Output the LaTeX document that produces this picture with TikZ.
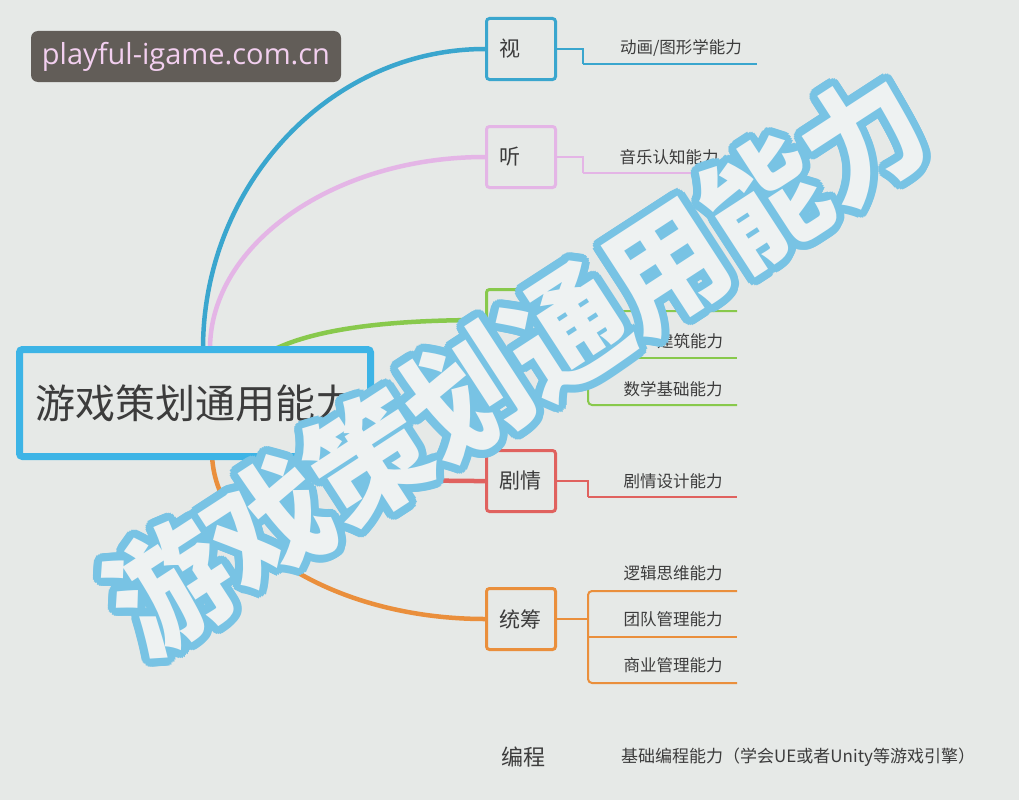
\documentclass[tikz,border=0pt]{standalone}
\usepackage{fontspec}
\setmainfont{Open Sans}
\newfontfamily\cjk{Noto Sans CJK SC}
\definecolor{bg}{HTML}{E6E9E7}
\definecolor{cblue}{HTML}{3AA6CE}
\definecolor{croot}{HTML}{3DB4E6}
\definecolor{cpink}{HTML}{E4B5E6}
\definecolor{cgreen}{HTML}{88C94C}
\definecolor{cred}{HTML}{E0625F}
\definecolor{corange}{HTML}{EA8F3C}
\definecolor{wmblue}{HTML}{78C3E4}
\definecolor{wmfill}{HTML}{EEF2F2}
\definecolor{urlbg}{HTML}{625D58}
\definecolor{urltx}{HTML}{F2CFEF}
\definecolor{txt}{HTML}{3C3C3C}
\tikzset{
  rootbox/.style={draw=croot, line width=7pt, fill=bg, rounded corners=3pt,
    minimum width=351pt, minimum height=107pt, inner sep=0pt, text=txt,
    font=\cjk\fontsize{40}{40}\selectfont},
  branchbox/.style={draw=#1, line width=3pt, fill=bg, rounded corners=3pt,
    minimum width=69pt, minimum height=61pt, inner xsep=12.5pt, inner ysep=0pt,
    text width=44pt, align=left, text=txt, font=\cjk\fontsize{21}{21}\selectfont},
  bigcurve/.style={draw=#1, line width=4.5pt},
  stub/.style={draw=#1, line width=2.4pt},
  childline/.style={draw=#1, line width=2pt},
  childtext/.style={text=txt, inner sep=0pt, font=\cjk\fontsize{16.5}{16.5}\selectfont},
  plainlabel/.style={text=txt, inner sep=0pt, font=\cjk\fontsize{22}{22}\selectfont},
  wmtext/.style={rotate=33, yscale=1.06, inner sep=0pt, font=\cjk\bfseries\fontsize{118}{118}\selectfont},
  urlbox/.style={fill=urlbg, rounded corners=7pt, minimum width=310pt, minimum height=51pt,
    text=urltx, inner sep=0pt, font=\fontsize{29}{29}\selectfont}
}
\begin{document}
\begin{tikzpicture}[x=1pt,y=-1pt]
\fill[bg] (0,0) rectangle (1019,800);
\useasboundingbox (0,0) rectangle (1019,800);

% branch boxes
\node[branchbox=cblue] (vbox) at (521,49) {视};
\node[branchbox=cpink] (hbox) at (521,157) {听};
\node[branchbox=cgreen] (gbox) at (521,320) {};
\node[branchbox=cred] (rbox) at (521,481) {剧情};
\node[branchbox=corange] (obox) at (521,619) {统筹};

% root anchors for curves
\coordinate (rb) at (203,349);
\coordinate (rp) at (210,349);
\coordinate (rg) at (250,365);
\coordinate (rr) at (330,440);
\coordinate (ro) at (212,452);

\draw[bigcurve=cblue] (rb) .. controls +(0,-164) and +(-155,0) .. (vbox.west);
\draw[bigcurve=cpink] (rp) .. controls +(0,-105) and +(-151,0) .. (hbox.west);
\draw[bigcurve=cgreen] (rg) .. controls +(40,-35) and +(-105,0) .. (gbox.west);
\draw[bigcurve=cred] (rr) .. controls +(40,41) and +(-70,0) .. (rbox.west);
\draw[bigcurve=corange] (ro) .. controls +(0,90) and +(-150,0) .. (obox.west);

% root
\node[rootbox] (root) at (195,403) {游戏策划通用能力};

% child coordinates
\coordinate (v1s) at (583,64);  \coordinate (v1e) at (757,64);
\coordinate (h1s) at (583,173); \coordinate (h1e) at (737,173);
\coordinate (g1s) at (588,311); \coordinate (g1e) at (737,311);
\coordinate (g2s) at (588,358); \coordinate (g2e) at (737,358);
\coordinate (g3s) at (588,405); \coordinate (g3e) at (737,405);
\coordinate (r1s) at (588,497); \coordinate (r1e) at (737,497);
\coordinate (o1s) at (588,591); \coordinate (o1e) at (737,591);
\coordinate (o2s) at (588,637); \coordinate (o2e) at (737,637);
\coordinate (o3s) at (588,683); \coordinate (o3e) at (737,683);

% connectors to children
\draw[stub=cblue] (vbox.east) -| (v1s);
\draw[childline=cblue] (v1s) -- (v1e);
\draw[stub=cpink] (hbox.east) -| (h1s);
\draw[childline=cpink] (h1s) -- (h1e);
\draw[stub=cgreen] (gbox.east) -- (gbox.east -| g1s);
\draw[childline=cgreen, rounded corners=4pt] (g1e) -- (g1s) -- (g3s) -- (g3e);
\draw[childline=cgreen] (g2s) -- (g2e);
\draw[stub=cred] (rbox.east) -| (r1s);
\draw[childline=cred] (r1s) -- (r1e);
\draw[stub=corange] (obox.east) -- (obox.east -| o1s);
\draw[childline=corange, rounded corners=4pt] (o1e) -- (o1s) -- (o3s) -- (o3e);
\draw[childline=corange] (o2s) -- (o2e);

% child texts
\node[childtext] (v1) at (681,48) {动画/图形学能力};
\node[childtext] (h1) at (669,157) {音乐认知能力};
\node[childtext] (g2) at (690,341) {建筑能力};
\node[childtext] (g3) at (673,389) {数学基础能力};
\node[childtext] (r1) at (673,481) {剧情设计能力};
\node[childtext] (o1) at (673,573) {逻辑思维能力};
\node[childtext] (o2) at (673,619) {团队管理能力};
\node[childtext] (o3) at (673,665) {商业管理能力};

% programming (no box)
\node[plainlabel] (bc) at (523,757) {编程};
\node[childtext, anchor=west, font=\cjk\fontsize{17}{17}\selectfont] (bc1) at (621,757) {基础编程能力（学会UE或者Unity等游戏引擎）};

% watermark
\coordinate (wmc) at (516,362);
\foreach \a in {0,15,...,345} {
  \node[wmtext, text=wmblue] (wmo\a) at ([shift={(\a:8)}]wmc) {游戏策划通用能力};
}
\node[wmtext, text=wmfill] (wm) at (wmc) {游戏策划通用能力};

% url label
\node[urlbox] (url) at (186,56.5) {playful-igame.com.cn};
\end{tikzpicture}
\end{document}
